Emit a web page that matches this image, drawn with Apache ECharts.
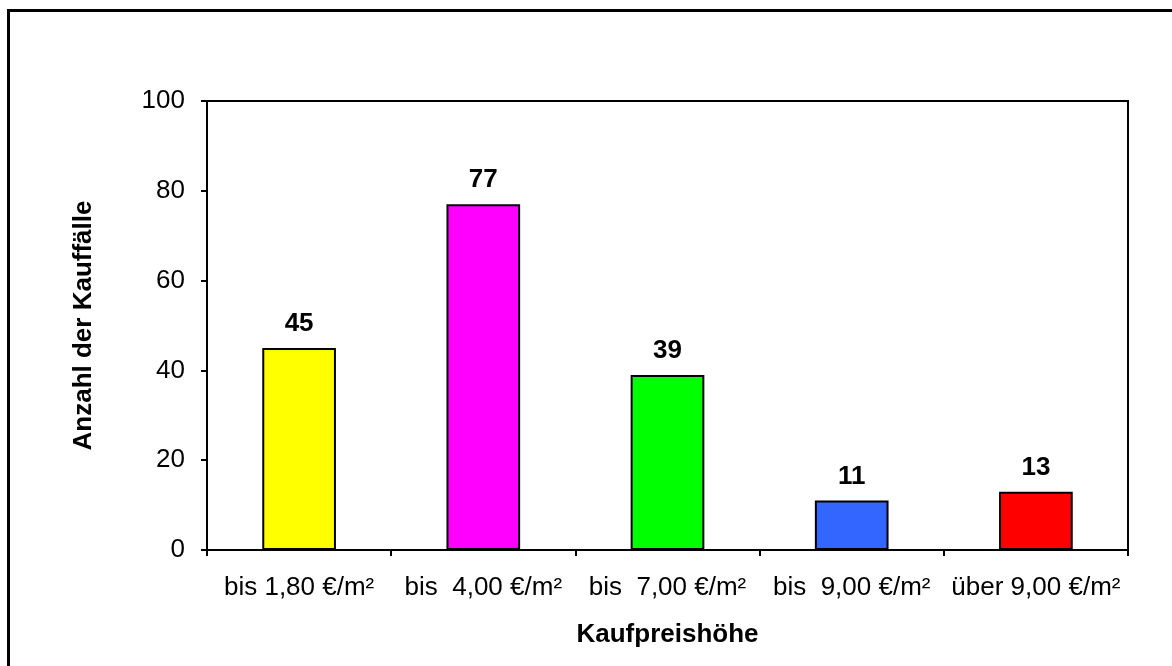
<!DOCTYPE html>
<html>
<head>
<meta charset="utf-8">
<script src="https://cdn.jsdelivr.net/npm/echarts@6/dist/echarts.min.js"></script>
<style>
html,body{margin:0;padding:0;background:#fff;overflow:hidden;}
#frame{position:absolute;left:7px;top:9px;width:1300px;height:800px;border:3px solid #000;box-sizing:border-box;}
#chart{position:absolute;left:0;top:0;width:1172px;height:666px;}
</style>
</head>
<body>
<div id="frame"></div>
<div id="chart"></div>
<script>
const categories = ['bis 1,80 €/m²', 'bis  4,00 €/m²', 'bis  7,00 €/m²', 'bis  9,00 €/m²', 'über 9,00 €/m²'];
const values = [45, 77, 39, 11, 13];
const colors = ['#FFFF00', '#FF00FF', '#00FF00', '#3366FF', '#FF0000'];
const yTitle = 'Anzahl der Kauffälle';
const xTitle = 'Kaufpreishöhe';

const chart = echarts.init(document.getElementById('chart'), null, {renderer: 'canvas'});
const font = 'Liberation Sans, Arial, sans-serif';
chart.setOption({
  animation: false,
  backgroundColor: 'transparent',
  grid: {left: 207, top: 101, right: 44, bottom: 116, show: true, borderColor: '#000', borderWidth: 2, backgroundColor: 'transparent'},
  xAxis: {
    type: 'category',
    data: categories,
    name: xTitle,
    nameLocation: 'middle',
    nameGap: 72,
    nameTextStyle: {fontFamily: font, fontSize: 26, fontWeight: 'bold', color: '#000'},
    axisLine: {lineStyle: {color: '#000', width: 2}},
    axisTick: {show: true, length: 6, lineStyle: {color: '#000', width: 2}},
    axisLabel: {fontFamily: font, fontSize: 26, color: '#000', margin: 25, interval: 0}
  },
  yAxis: {
    type: 'value',
    min: 0, max: 100, interval: 20,
    name: yTitle,
    nameLocation: 'middle',
    nameGap: 110,
    nameRotate: 90,
    nameTextStyle: {fontFamily: font, fontSize: 26, fontWeight: 'bold', color: '#000'},
    splitLine: {show: false},
    axisLine: {show: true, lineStyle: {color: '#000', width: 2}},
    axisTick: {show: true, length: 6, lineStyle: {color: '#000', width: 2}},
    axisLabel: {fontFamily: font, fontSize: 26, color: '#000', margin: 22}
  },
  series: [{
    type: 'bar',
    data: values.map((v, i) => ({value: v, itemStyle: {color: colors[i]}})),
    barWidth: '40%',
    itemStyle: {borderColor: '#000', borderWidth: 2},
    label: {show: true, position: 'top', distance: 11, fontFamily: font, fontSize: 26, fontWeight: 'bold', color: '#000'}
  }]
});
</script>
</body>
</html>
